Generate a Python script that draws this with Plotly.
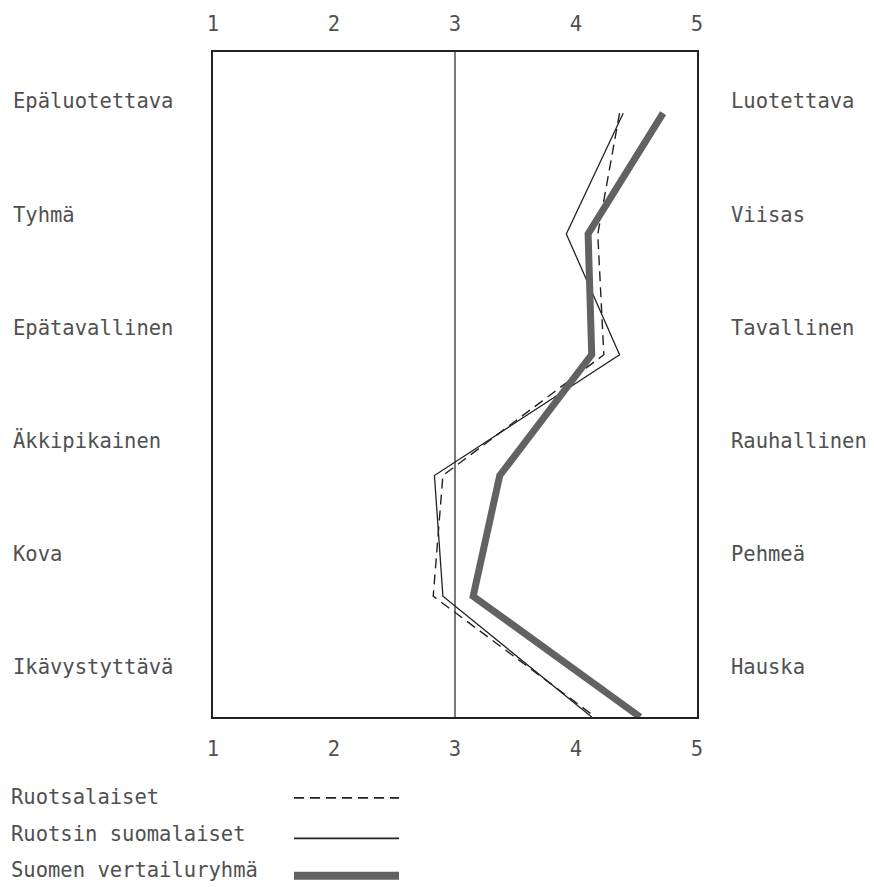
import plotly.graph_objects as go

# ---- data ----
left_labels = ["Epäluotettava", "Tyhmä", "Epätavallinen", "Äkkipikainen", "Kova", "Ikävystyttävä"]
right_labels = ["Luotettava", "Viisas", "Tavallinen", "Rauhallinen", "Pehmeä", "Hauska"]
rows = [0, 1, 2, 3, 4, 5]
scale_ticks = [1, 2, 3, 4, 5]

series_names = ["Ruotsalaiset", "Ruotsin suomalaiset", "Suomen vertailuryhmä"]
ruotsalaiset = [4.36, 4.18, 4.23, 2.90, 2.82, 4.16]
ruotsin_suomalaiset = [4.39, 3.92, 4.36, 2.83, 2.90, 4.13]
suomen_vertailuryhma = [4.72, 4.10, 4.13, 3.37, 3.15, 4.53]

# ---- layout constants (pixels) ----
W, H = 874, 887
L, R, T, B = 213, 697, 43, 717
PW, PH = R - L, B - T
FONT = "DejaVu Sans Mono"
TXT = "#505050"
FS = 20.5

def px_x(p):
    return (p - L) / PW

def px_y(p):
    return (B - p) / PH

styles = [
    dict(color="#222222", width=1.4, dash="10px,6px"),
    dict(color="#222222", width=1.3),
    dict(color="#626262", width=7),
]
series = [ruotsalaiset, ruotsin_suomalaiset, suomen_vertailuryhma]

fig = go.Figure()
for name, vals, st in zip(series_names, series, styles):
    fig.add_trace(go.Scatter(x=vals, y=rows, mode="lines", name=name, line=st,
                             showlegend=False, hoverinfo="skip"))
# invisible trace for top axis
fig.add_trace(go.Scatter(x=scale_ticks, y=[0] * 5, xaxis="x2", mode="markers",
                         marker=dict(opacity=0), showlegend=False, hoverinfo="skip"))

shapes = [
    dict(type="line", xref="x", yref="paper", x0=3, x1=3, y0=0, y1=1,
         line=dict(color="#222222", width=1.2)),
]

annotations = []
label_px = [93, 208, 323, 437, 552, 666]
for lab, yp in zip(left_labels, label_px):
    annotations.append(dict(text=lab, xref="paper", yref="paper", x=px_x(11), y=px_y(yp),
                            xanchor="left", yanchor="middle", showarrow=False,
                            font=dict(family=FONT, size=FS, color=TXT)))
for lab, yp in zip(right_labels, label_px):
    annotations.append(dict(text=lab, xref="paper", yref="paper", x=px_x(729), y=px_y(yp),
                            xanchor="left", yanchor="middle", showarrow=False,
                            font=dict(family=FONT, size=FS, color=TXT)))

# legend drawn below the chart: text left, line sample right
leg_y = [798, 836, 872]
line_y = [799, 840, 878]
for name, yp, ly, st in zip(series_names, leg_y, line_y, styles):
    annotations.append(dict(text=name, xref="paper", yref="paper", x=px_x(9), y=px_y(yp),
                            xanchor="left", yanchor="middle", showarrow=False,
                            font=dict(family=FONT, size=FS, color=TXT)))
    lw = st.get("width")
    shapes.append(dict(type="line", xref="paper", yref="paper",
                       x0=px_x(294), x1=px_x(399), y0=px_y(ly), y1=px_y(ly),
                       line=dict(color=st["color"], width=lw + (1 if lw > 5 else 0.5),
                                 dash=st.get("dash", "solid"))))

axis_common = dict(range=[1, 5], tickmode="array", tickvals=scale_ticks,
                   ticktext=[str(v) for v in scale_ticks], showgrid=False, zeroline=False,
                   ticks="outside", tickcolor="rgba(0,0,0,0)",
                   tickfont=dict(family=FONT, size=FS, color=TXT))

fig.update_layout(
    width=W, height=H,
    margin=dict(l=L, r=W - R, t=T, b=H - B),
    paper_bgcolor="white", plot_bgcolor="white",
    xaxis=dict(**axis_common, ticklen=13, showline=True, linecolor="#222222", linewidth=1.5,
               mirror=True),
    xaxis2=dict(**axis_common, ticklen=12, overlaying="x", side="top", showline=False),
    yaxis=dict(range=[5, -0.507], showticklabels=False, showgrid=False, zeroline=False,
               showline=True, linecolor="#222222", linewidth=1.5, mirror=True, ticks=""),
    shapes=shapes,
    annotations=annotations,
    showlegend=False,
)

fig.write_html("out.html", config={"displayModeBar": False},
               post_script="document.body.style.margin='0';")
